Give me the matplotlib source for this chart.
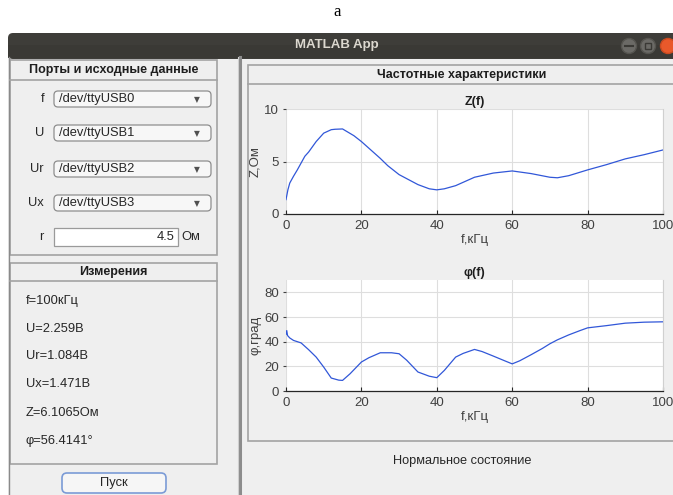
import matplotlib
matplotlib.use('Agg')
from matplotlib import pyplot as plt
from matplotlib.patches import Rectangle, FancyBboxPatch, Circle

plt.rcParams['font.family'] = ['Liberation Sans', 'DejaVu Sans']

W, H = 673, 495

# data
f_z = [0, 0.5, 1, 2, 3, 5, 6, 7, 8, 10, 12, 13, 15, 18, 20, 25, 27, 30, 35, 38,
       40, 42, 45, 50, 55, 60, 65, 70, 72, 75, 80, 85, 90, 95, 100]
z_vals = [1.37, 2.3, 2.95, 3.6, 4.2, 5.5, 5.9, 6.4, 6.9, 7.7, 8.03, 8.07, 8.1,
          7.46, 6.9, 5.3, 4.6, 3.75, 2.8, 2.4, 2.3, 2.4, 2.7, 3.5, 3.9, 4.1,
          3.85, 3.5, 3.45, 3.65, 4.2, 4.7, 5.25, 5.65, 6.1]
f_phi = [0, 0.2, 0.4, 1, 2, 4, 6, 8, 10, 12, 14, 15, 17, 20, 22, 25, 28, 30, 32,
         35, 38, 40, 42, 45, 47, 50, 52, 55, 58, 60, 62, 65, 68, 70, 72, 75, 78,
         80, 85, 90, 95, 100]
phi_vals = [46, 49, 45, 43, 41, 39, 33.5, 27.5, 19.4, 10.5, 8.8, 8.6, 14, 23.5,
            27, 31, 31, 30.2, 25, 15.4, 12, 10.8, 16.7, 27.5, 30.5, 33.7, 32,
            28.3, 24.5, 22, 24.5, 29.4, 34.5, 38.3, 41.5, 45.5, 49, 51.2, 53,
            55, 55.8, 56.1]

port_labels = ['f', 'U', 'Ur', 'Ux']
port_values = ['/dev/ttyUSB0', '/dev/ttyUSB1', '/dev/ttyUSB2', '/dev/ttyUSB3']
r_value = '4.5'
meas_lines = ['f=100кГц', 'U=2.259В', 'Ur=1.084В', 'Ux=1.471В',
              'Z=6.1065Ом', 'φ=56.4141°']


def px_rect(x0, y0, x1, y1):
    return [x0 / W, 1 - y1 / H, (x1 - x0) / W, (y1 - y0) / H]


fig = plt.figure(figsize=(W / 100, H / 100), dpi=100)
fig.patch.set_facecolor('white')

bg = fig.add_axes([0, 0, 1, 1])
bg.set_xlim(0, W)
bg.set_ylim(H, 0)
bg.axis('off')

bg.text(337, 12, 'a', ha='center', va='center', fontsize=12,
        family=['Liberation Serif', 'DejaVu Serif'])

# window
bg.add_patch(Rectangle((8, 57), W - 8, H - 57, fc='#efefef', ec='none'))
bg.add_patch(FancyBboxPatch((8, 33), W - 8 + 10, 26, boxstyle='round,pad=0,rounding_size=5',
                            fc='#3e3d39', ec='none'))
bg.add_patch(Rectangle((8, 45), W - 8, 13, fc='#3a3935', ec='none'))
bg.text(337, 45, 'MATLAB App', ha='center', va='center', fontsize=9.5,
        fontweight='bold', color='#dcd8cf')
bg.add_patch(Circle((629, 46), 7.5, fc='#6b6a66', ec='#55544f'))
bg.add_patch(Circle((648, 46), 7.5, fc='#6b6a66', ec='#55544f'))
bg.add_patch(Circle((668, 46), 7.5, fc='#e9592b', ec='#c94a20'))
bg.plot([625, 633], [46, 46], color='#3a3935', lw=1.5)
bg.add_patch(Rectangle((645, 43), 6, 6, fc='none', ec='#3a3935', lw=1))
bg.plot([8.5, 8.5], [57, H], color='#8a8a8a', lw=1)
bg.plot([240, 240], [57, H], color='#8c8c8c', lw=2.2)
bg.plot([237.5, 237.5], [57, H], color='#cfcfcf', lw=0.8)

# left panels
for y0, y1, ytl, title in [(60, 255, 80, 'Порты и исходные данные'),
                           (263, 464, 281, 'Измерения')]:
    bg.add_patch(Rectangle((10, y0), 207, y1 - y0, fc='#efefef', ec='#a3a3a3', lw=1.2))
    bg.plot([10, 217], [ytl, ytl], color='#a3a3a3', lw=1.2)
    bg.text(113.5, (y0 + ytl) / 2 + 0.5, title, ha='center', va='center',
            fontsize=9, fontweight='bold', color='#1e1e1e')

port_y = [99, 133, 169, 203]
for lab, val, yc in zip(port_labels, port_values, port_y):
    bg.text(44, yc, lab, ha='right', va='center', fontsize=9.3, color='#262626')
    bg.add_patch(FancyBboxPatch((54, yc - 8), 157, 16,
                                boxstyle='round,pad=0,rounding_size=4',
                                fc='#f7f7f7', ec='#8e8e8e', lw=0.9))
    bg.text(59, yc, val, ha='left', va='center', fontsize=9.3, color='#262626')
    bg.text(197, yc + 0.5, '▼', ha='center', va='center', fontsize=5.5,
            color='#505050', family=['DejaVu Sans'])

bg.text(44, 237, 'r', ha='right', va='center', fontsize=9.3, color='#262626')
bg.add_patch(Rectangle((54, 228), 124, 18, fc='white', ec='#9a9a9a', lw=0.9))
bg.text(175, 237, r_value, ha='right', va='center', fontsize=9.3, color='#262626')
bg.text(181, 237, 'Ом', ha='left', va='center', fontsize=9.3, color='#262626')

meas_y = [301, 329, 356, 384, 413, 441]
for txt, yc in zip(meas_lines, meas_y):
    bg.text(26, yc, txt, ha='left', va='center', fontsize=9.3, color='#262626')

bg.add_patch(FancyBboxPatch((62, 473), 104, 20, boxstyle='round,pad=0,rounding_size=5',
                            fc='#f6f6f6', ec='#7b9bd6', lw=1.2))
bg.text(114, 483, 'Пуск', ha='center', va='center', fontsize=9.3, color='#262626')

# right plot panel
bg.add_patch(Rectangle((248, 65), 430, 376, fc='#efefef', ec='#a3a3a3', lw=1.2))
bg.plot([248, W], [84, 84], color='#a3a3a3', lw=1.2)
bg.text(462, 75, 'Частотные характеристики', ha='center', va='center',
        fontsize=9, fontweight='bold', color='#1e1e1e')
bg.text(462, 461, 'Нормальное состояние', ha='center', va='center',
        fontsize=9.2, color='#262626')


def style_axes(ax):
    ax.set_facecolor('white')
    ax.grid(True, color='#dedede', lw=0.8)
    ax.set_axisbelow(True)
    for s in ['left', 'top']:
        ax.spines[s].set_visible(False)
    ax.spines['right'].set_color('#d0d0d0')
    ax.spines['right'].set_linewidth(0.8)
    ax.spines['bottom'].set_color('#262626')
    ax.spines['bottom'].set_linewidth(0.9)
    ax.tick_params(axis='x', direction='in', length=3, labelsize=9.5,
                   colors='#262626', labelcolor='#404040', pad=4)
    ax.tick_params(axis='y', direction='out', length=2, labelsize=9.5,
                   colors='#404040', pad=3)
    ax.set_xlim(0, 100)
    ax.set_xticks([0, 20, 40, 60, 80, 100])


ax1 = fig.add_axes(px_rect(286, 109, 663, 214))
style_axes(ax1)
ax1.plot(f_z, z_vals, color='#3157d8', lw=0.9)
ax1.set_ylim(0, 10)
ax1.set_yticks([0, 5, 10])
ax1.set_title('Z(f)', fontsize=9, fontweight='bold', pad=3, color='#1e1e1e')
ax1.set_xlabel('f,кГц', fontsize=9.5, color='#404040', labelpad=2)
ax1.set_ylabel('Z,Ом', fontsize=9.5, color='#404040', labelpad=2)

ax2 = fig.add_axes(px_rect(286, 280, 663, 391))
style_axes(ax2)
ax2.plot(f_phi, phi_vals, color='#3157d8', lw=0.9)
ax2.set_ylim(0, 90)
ax2.set_yticks([0, 20, 40, 60, 80])
ax2.set_title('φ(f)', fontsize=9, fontweight='bold', pad=3, color='#1e1e1e')
ax2.set_xlabel('f,кГц', fontsize=9.5, color='#404040', labelpad=2)
ax2.set_ylabel('φ,град', fontsize=9.5, color='#404040', labelpad=2)

plt.savefig('out.png', dpi=100)
